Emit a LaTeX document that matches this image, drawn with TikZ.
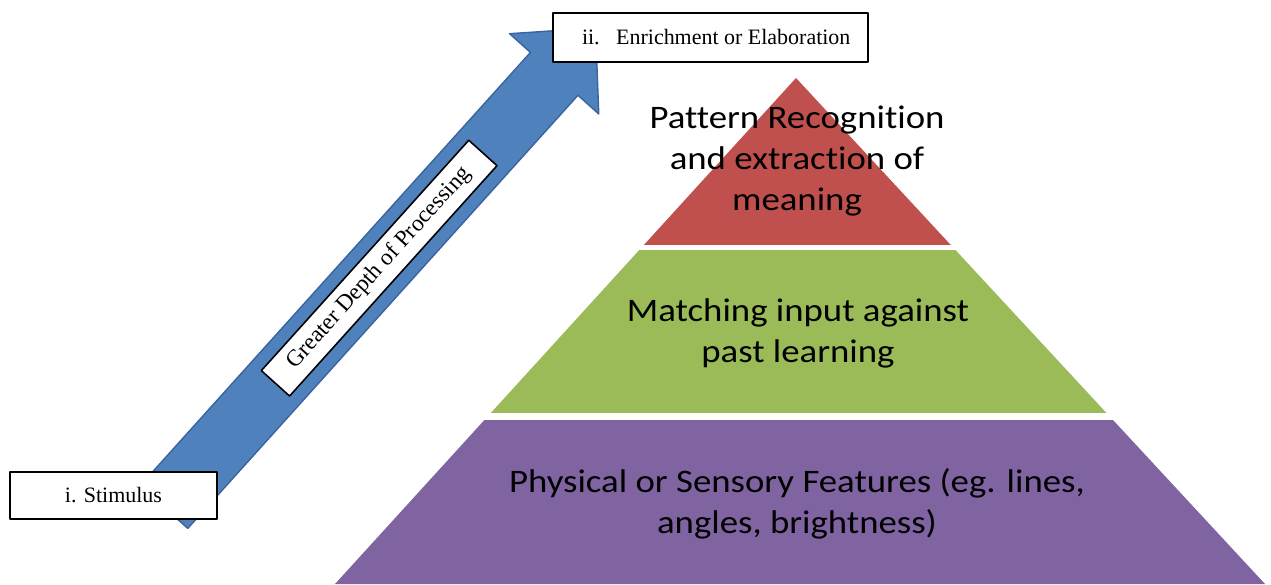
\documentclass[tikz,border=0pt]{standalone}
\usepackage{fontspec}
\setmainfont{Liberation Serif}
\newfontfamily\pyrfont[FakeStretch=1.12,Ligatures=NoCommon]{Carlito}
\usepackage{xcolor}
\usetikzlibrary{calc}

\definecolor{pyrred}{HTML}{C0504D}
\definecolor{pyrgreen}{HTML}{9BBB59}
\definecolor{pyrpurple}{HTML}{8064A2}
\definecolor{arrowblue}{HTML}{4F81BD}
\definecolor{arrowedge}{HTML}{3A64A0}

\begin{document}
\begin{tikzpicture}[line join=round,
  layer/.style={font=\pyrfont\fontsize{18.7}{23.3}\selectfont,align=center,inner sep=0pt},
  tagbox/.style={draw=black,fill=white,line width=0.9pt,font=\fontsize{12.5}{15}\selectfont}]
  \useasboundingbox (0,0) rectangle (25.42,11.68);
  % pyramid corners
  \coordinate (A) at (15.920,10.120);
  \coordinate (BL) at (6.700,0.000);
  \coordinate (BR) at (25.300,0.000);
  % three bands with white gaps between them
  \fill[pyrred] (A) -- ($(A)!0.330!(BL)$) -- ($(A)!0.330!(BR)$) -- cycle;
  \fill[pyrgreen] ($(A)!0.340!(BL)$) -- ($(A)!0.662!(BL)$) -- ($(A)!0.662!(BR)$) -- ($(A)!0.340!(BR)$) -- cycle;
  \fill[pyrpurple] ($(A)!0.676!(BL)$) -- (BL) -- (BR) -- ($(A)!0.676!(BR)$) -- cycle;
  \node[layer] (top) at (15.94,8.46) {Pattern Recognition\\and extraction of\\meaning};
  \node[layer] (mid) at (15.96,5.01) {Matching input against\\past learning};
  \node[layer] (low) at (15.94,1.61) {Physical or Sensory Features (eg. lines,\\angles, brightness)};
  % block arrow: tail S, tip T, head starts at N
  \coordinate (S) at (3.280,1.540);
  \coordinate (T) at (11.910,11.120);
  \coordinate (N) at ($(S)!11.66cm!(T)$);
  \filldraw[fill=arrowblue,draw=arrowedge,line width=0.8pt]
    ($(S)!0.64cm!-90:(T)$) -- ($(N)!0.64cm!-90:(T)$) -- ($(N)!1.2cm!-90:(T)$) -- (T)
    -- ($(N)!1.2cm!90:(T)$) -- ($(N)!0.64cm!90:(T)$) -- ($(S)!0.64cm!90:(T)$) -- cycle;
  \node[tagbox,font=\fontsize{13.2}{15}\selectfont,minimum width=6.2cm,minimum height=0.76cm,rotate=48] (depth) at ($(S)!6.43cm!(T)$) {Greater Depth of Processing};
  \node[tagbox,minimum width=4.14cm,minimum height=0.94cm] (stim) at (2.27,1.77) {i. Stimulus};
  \node[tagbox,inner xsep=0.58cm,minimum height=0.98cm] (enrich) at (14.21,10.93) {\makebox[5.14cm][l]{ii.\hspace{0.75em}Enrichment or Elaboration}};
\end{tikzpicture}
\end{document}
